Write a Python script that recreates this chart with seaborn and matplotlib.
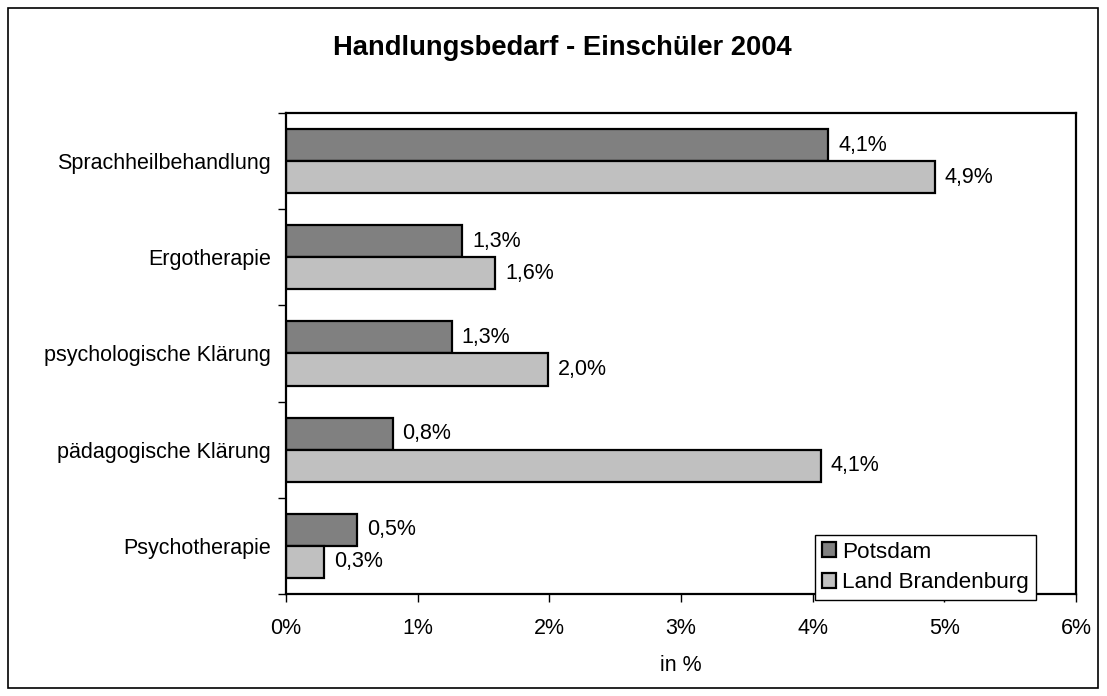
import matplotlib
matplotlib.use("Agg")
import matplotlib.pyplot as plt
import matplotlib.patches as mpatches
from matplotlib.ticker import FixedLocator
import seaborn as sns
import pandas as pd
import numpy as np

categories = ["Sprachheilbehandlung", "Ergotherapie", "psychologische Klärung",
              "pädagogische Klärung", "Psychotherapie"]
series = ["Potsdam", "Land Brandenburg"]
potsdam = [4.12, 1.34, 1.26, 0.81, 0.54]
brandenburg = [4.93, 1.59, 1.99, 4.06, 0.29]
xticks = [0, 1, 2, 3, 4, 5, 6]
colors = ["#808080", "#C0C0C0"]

sns.set_theme(style="white")
plt.rcParams['font.family'] = ['Liberation Sans', 'DejaVu Sans']
plt.rcParams.update({"text.color": "black", "axes.labelcolor": "black",
                     "xtick.color": "black", "ytick.color": "black"})

df = pd.DataFrame({
    "Kategorie": categories * 2,
    "Serie": [series[0]] * len(categories) + [series[1]] * len(categories),
    "Wert": potsdam + brandenburg,
})

FS = 15.5

fig = plt.figure(figsize=(11.07, 6.96), dpi=100)
ax = fig.add_axes([286 / 1107, 1 - 594 / 696, (1076 - 286) / 1107, (594 - 113) / 696])

sns.barplot(data=df, y="Kategorie", x="Wert", hue="Serie", orient="h",
            palette=colors, hue_order=series, order=categories,
            edgecolor="black", linewidth=1.6, width=2 / 3, saturation=1,
            ax=ax, legend=False)

for cont, vals in zip(ax.containers, [potsdam, brandenburg]):
    ax.bar_label(cont, labels=[f"{v:.1f}%".replace(".", ",") for v in vals],
                 padding=7, fontsize=FS, color="black")

ax.set_xlim(0, 6)
ax.set_ylim(len(categories) - 0.5, -0.5)
ax.set_xticks(xticks)
ax.set_xticklabels([f"{t}%" for t in xticks], fontsize=FS)
ax.set_yticks(range(len(categories)))
ax.set_yticklabels(categories, fontsize=FS)
ax.yaxis.set_minor_locator(FixedLocator(np.arange(-0.5, len(categories), 1.0)))
ax.tick_params(axis="y", which="major", length=0, pad=11)
ax.tick_params(axis="y", which="minor", length=6, width=1, color="black", left=True)
ax.tick_params(axis="x", which="major", length=6, width=1, color="black", bottom=True, pad=11)
ax.set_xlabel("in %", fontsize=FS, labelpad=12)
ax.set_ylabel("")
for s in ax.spines.values():
    s.set_visible(True)
    s.set_color("black")
    s.set_linewidth(1.6)

fig.suptitle("Handlungsbedarf - Einschüler 2004", fontsize=19.7, fontweight="bold",
             x=562 / 1107, y=1 - 48 / 696, va="center", color="black")

handles = [mpatches.Patch(facecolor=c, edgecolor="black", linewidth=1.6, label=s)
           for c, s in zip(colors, series)]
leg = fig.legend(handles=handles, loc="lower left",
                 bbox_to_anchor=(815 / 1107, 1 - 600 / 696), fontsize=16.2,
                 frameon=True, fancybox=False, framealpha=1, edgecolor="black",
                 handlelength=0.65, handleheight=0.65, handletextpad=0.25,
                 borderpad=0.3, labelspacing=0.42, borderaxespad=0)
leg.get_frame().set_linewidth(1.0)

fig.add_artist(mpatches.Rectangle((8 / 1107, 8 / 696), (1098 - 8) / 1107, (688 - 8) / 696,
                                  transform=fig.transFigure, fill=False,
                                  edgecolor="black", linewidth=1.2))

fig.savefig("out.png", dpi=100)
